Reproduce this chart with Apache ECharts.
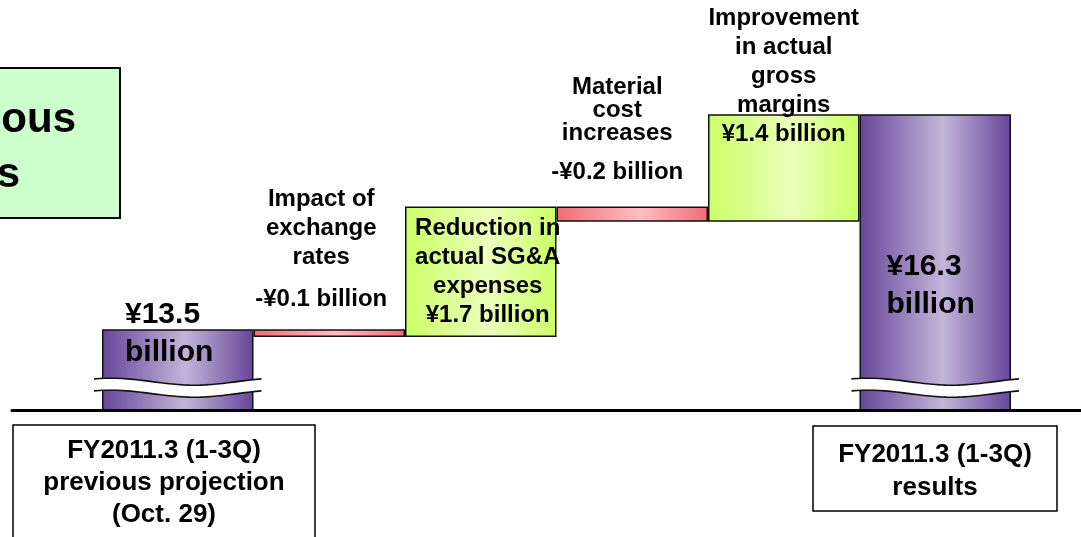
<!DOCTYPE html>
<html>
<head>
<meta charset="utf-8">
<title>Operating income bridge</title>
<script src="https://cdn.jsdelivr.net/npm/echarts@6/dist/echarts.min.js"></script>
<style>
  html, body { margin: 0; padding: 0; background: #fff; }
  #main { width: 1081px; height: 537px; }
</style>
</head>
<body>
<div id="main"></div>
<script>
// bridge steps, in billions of yen
var categories = ['FY2011.3 (1-3Q) previous projection', 'Impact of exchange rates', 'Reduction in actual SG&A expenses',
                  'Material cost increases', 'Improvement in actual gross margins', 'FY2011.3 (1-3Q) results'];
var kinds = ['total', 'down', 'up', 'down', 'up', 'total'];
var amounts = [13.5, -0.1, 1.7, -0.2, 1.4, 16.3];
var notes = ['', 'Impact of\nexchange\nrates', 'Reduction in\nactual SG&A\nexpenses', 'Material\ncost\nincreases',
             'Improvement\nin actual\ngross\nmargins', ''];
var valueTexts = ['¥13.5\nbillion', '-¥0.1 billion', '¥1.7 billion', '-¥0.2 billion', '¥1.4 billion', '¥16.3\nbillion'];
var axisTexts = ['FY2011.3 (1-3Q)\nprevious projection\n(Oct. 29)', '', '', '', '', 'FY2011.3 (1-3Q)\nresults'];
var sideTexts = ['ous', 's'];
var axisBreakAt = 12.74;   // where the wavy break is drawn on the total bars

var FONT = '"Liberation Sans", Arial, sans-serif';

function grad(edge, mid) {
  return new echarts.graphic.LinearGradient(0, 0, 1, 0, [
    { offset: 0, color: edge }, { offset: 0.55, color: mid }, { offset: 1, color: edge }
  ]);
}
var fills = {
  total: grad('#664599', '#c3b5d9'),
  up: grad('#ccff66', '#ebffbb'),
  down: grad('#f06c75', '#ffbec2')
};

// label placement per step
var labelCfg = [
  { position: [23, -34], align: 'left', verticalAlign: 'top', val: 'big' },
  { position: 'top', distance: 15, offset: [-8, 0], note: 'mid', gap: true, val: 'mid' },
  { position: 'inside', offset: [7, 0], note: 'mid', val: 'mid' },
  { position: 'top', distance: 20, offset: [-15, 0], note: 'tight', gap: true, val: 'mid' },
  { position: ['50%', -38], align: 'center', verticalAlign: 'middle', note: 'mid', val: 'mid' },
  { position: [27, 134], align: 'left', verticalAlign: 'top', val: 'big' }
];

function wrap(txt, style) {
  return txt.split('\n').map(function (s) { return '{' + style + '|' + s + '}'; }).join('\n');
}

// running totals -> invisible base + visible piece
var base = [], shown = [];
var running = 0;
for (var i = 0; i < amounts.length; i++) {
  if (kinds[i] === 'total') {
    base.push(0); shown.push(amounts[i]); running = amounts[i];
  } else if (amounts[i] >= 0) {
    base.push(running); shown.push(amounts[i]); running += amounts[i];
  } else {
    running += amounts[i]; base.push(running); shown.push(-amounts[i]);
  }
}

var shownData = shown.map(function (v, i) {
  var c = labelCfg[i];
  var txt = '';
  if (notes[i]) txt += wrap(notes[i], c.note) + '\n';
  if (c.gap) txt += '{gap| }\n';
  txt += wrap(valueTexts[i], c.val);
  var lab = { show: true, position: c.position, formatter: txt };
  if (c.distance != null) lab.distance = c.distance;
  if (c.offset) lab.offset = c.offset;
  if (c.align) lab.align = c.align;
  if (c.verticalAlign) lab.verticalAlign = c.verticalAlign;
  return { value: v, itemStyle: { color: fills[kinds[i]] }, label: lab };
});

var breakData = [];
kinds.forEach(function (k, i) { if (k === 'total') breakData.push([i, axisBreakAt]); });

function renderBreak(params, api) {
  var c = api.coord([api.value(0), api.value(1)]);
  var w = api.size([1, 0])[0];
  var x0 = c[0] - w / 2 - 8, x1 = c[0] + w / 2 + 8;
  var top = [], bot = [];
  for (var j = 0; j <= 30; j++) {
    var t = j / 30;
    var x = x0 + (x1 - x0) * t;
    var dy = -3.5 * Math.sin(2 * Math.PI * (t + 0.15));
    top.push([x, c[1] - 6 + dy]);
    bot.push([x, c[1] + 6 + dy]);
  }
  return {
    type: 'group',
    children: [
      { type: 'polygon', shape: { points: top.concat(bot.slice().reverse()) }, style: { fill: '#fff' } },
      { type: 'polyline', shape: { points: top }, style: { stroke: '#111', lineWidth: 1.6, fill: null } },
      { type: 'polyline', shape: { points: bot }, style: { stroke: '#111', lineWidth: 1.6, fill: null } }
    ]
  };
}

function textEl(txt, x, y, size, lh, align) {
  return {
    type: 'text', x: x, y: y,
    style: {
      text: txt, fill: '#000', font: 'bold ' + size + 'px ' + FONT, lineHeight: lh,
      textAlign: align, align: align, textVerticalAlign: 'middle', verticalAlign: 'middle'
    }
  };
}

var myChart = echarts.init(document.getElementById('main'));
var option = {
  backgroundColor: '#fff',
  animation: false,
  textStyle: { fontFamily: FONT },
  grid: [
    { left: 102, right: 70, top: 22, bottom: 127 },
    { left: 12, right: 0, top: 22, bottom: 127 }
  ],
  xAxis: [
    { type: 'category', gridIndex: 0, data: categories, axisLine: { show: false }, axisTick: { show: false }, axisLabel: { show: false } },
    { type: 'value', gridIndex: 1, min: 0, max: 1, z: 10, axisLine: { show: true, lineStyle: { color: '#000', width: 3 } },
      axisTick: { show: false }, axisLabel: { show: false }, splitLine: { show: false } }
  ],
  yAxis: [
    { type: 'value', gridIndex: 0, min: 12.45, max: 17.5, show: false },
    { type: 'value', gridIndex: 1, min: 0, max: 1, show: false }
  ],
  series: [
    {
      type: 'bar', stack: 'w', data: base, barCategoryGap: '0%',
      itemStyle: { color: 'rgba(0,0,0,0)', borderWidth: 0 }, silent: true
    },
    {
      type: 'bar', stack: 'w', data: shownData, barCategoryGap: '0%',
      itemStyle: { borderColor: '#111', borderWidth: 1.5 },
      label: {
        color: '#000', fontWeight: 'bold', fontFamily: FONT,
        rich: {
          big: { fontSize: 30, lineHeight: 38, fontWeight: 'bold', color: '#000', fontFamily: FONT },
          mid: { fontSize: 24, lineHeight: 29, fontWeight: 'bold', color: '#000', fontFamily: FONT },
          tight: { fontSize: 24, lineHeight: 23, fontWeight: 'bold', color: '#000', fontFamily: FONT },
          gap: { fontSize: 8, lineHeight: 13 }
        }
      }
    },
    {
      type: 'custom', data: breakData, renderItem: renderBreak, clip: false, z: 3, silent: true
    }
  ],
  graphic: [
    { type: 'rect', shape: { x: -20, y: 68, width: 140, height: 150 }, style: { fill: '#ccffcc', stroke: '#000', lineWidth: 2 } },
    textEl(sideTexts[0], 76, 120, 42, 50, 'right'),
    textEl(sideTexts[1], 20, 175, 42, 50, 'right'),
    { type: 'rect', shape: { x: 13, y: 425, width: 302, height: 140 }, style: { fill: '#fff', stroke: '#000', lineWidth: 1.5 } },
    textEl(axisTexts[0], 164, 483, 26, 32, 'center'),
    { type: 'rect', shape: { x: 813, y: 426, width: 244, height: 85 }, style: { fill: '#fff', stroke: '#000', lineWidth: 1.5 } },
    textEl(axisTexts[5], 935, 471, 26, 33, 'center')
  ]
};
myChart.setOption(option);
</script>
</body>
</html>
